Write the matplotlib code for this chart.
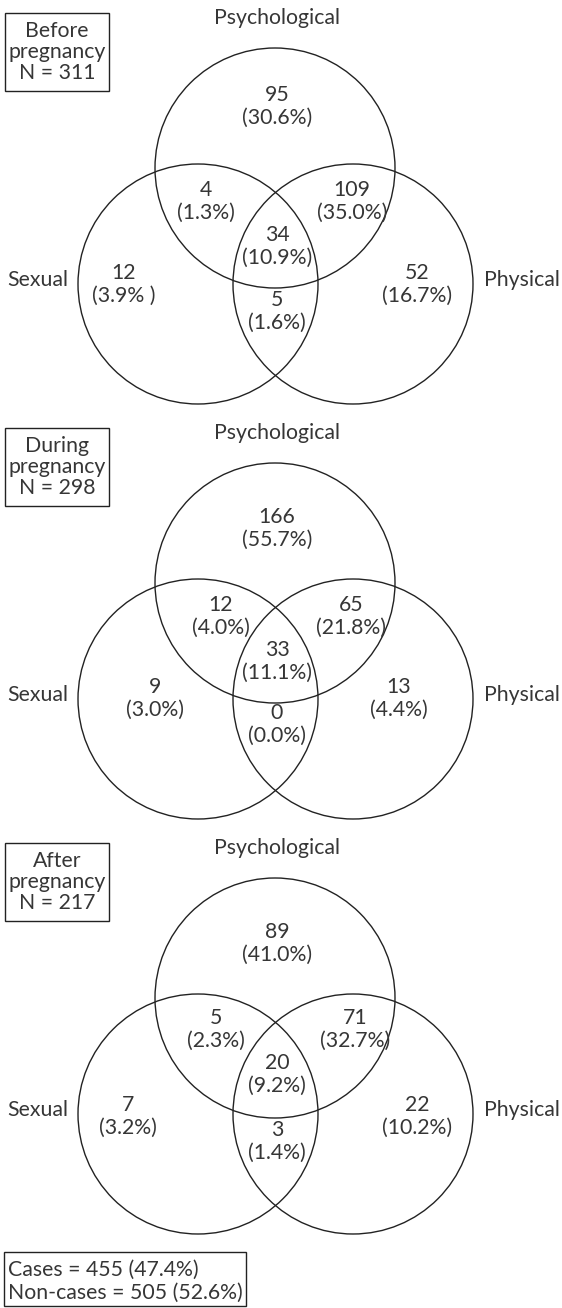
import matplotlib
matplotlib.use("Agg")
import matplotlib.pyplot as plt
from matplotlib.patches import Circle, Rectangle

plt.rcParams['font.family'] = ['Lato', 'DejaVu Sans']

# ---------------- data ----------------
set_names = ["Psychological", "Sexual", "Physical"]
periods = ["Before\npregnancy", "During\npregnancy", "After\npregnancy"]
period_n = [311, 298, 217]
# regions: psych only, psych&sexual, psych&physical, all three, sexual only, sexual&physical, physical only
region_keys = ["P", "PS", "PPh", "PSPh", "S", "SPh", "Ph"]
counts_before = [95, 4, 109, 34, 12, 5, 52]
counts_during = [166, 12, 65, 33, 9, 0, 13]
counts_after = [89, 5, 71, 20, 7, 3, 22]
pct_before = ["30.6%", "1.3%", "35.0%", "10.9%", "3.9% ", "1.6%", "16.7%"]
pct_during = ["55.7%", "4.0%", "21.8%", "11.1%", "3.0%", "0.0%", "4.4%"]
pct_after = ["41.0%", "2.3%", "32.7%", "9.2%", "3.2%", "1.4%", "10.2%"]
cases_n, cases_pct = 455, "47.4%"
noncases_n, noncases_pct = 505, "52.6%"

counts = [counts_before, counts_during, counts_after]
pcts = [pct_before, pct_during, pct_after]

# ---------------- layout (pixel space) ----------------
W, H = 562, 1308
panel_offsets = [0, 415, 830]
R = 120
centers = {"P": (275, 168), "S": (198, 284), "Ph": (353, 284)}
# label positions (x, y of count line) per panel
label_pos = [
    {"P": (277, 95), "PS": (206, 190), "PPh": (352, 190), "PSPh": (277, 235),
     "S": (124, 273), "SPh": (277, 300), "Ph": (417, 273)},
    {"P": (277, 102), "PS": (221, 190), "PPh": (351, 190), "PSPh": (277, 235),
     "S": (155, 272), "SPh": (277, 298), "Ph": (399, 272)},
    {"P": (277, 102), "PS": (216, 188), "PPh": (355, 188), "PSPh": (277, 233),
     "S": (128, 275), "SPh": (277, 300), "Ph": (417, 275)},
]
line_gap = 23
txt_color = "#363636"
edge_color = "#222222"
fs = 15.3

fig = plt.figure(figsize=(W / 100, H / 100), dpi=100)
ax = fig.add_axes([0, 0, 1, 1])
ax.set_xlim(0, W)
ax.set_ylim(H, 0)
ax.set_aspect('equal')
ax.axis('off')

for i, off in enumerate(panel_offsets):
    for k in ["P", "S", "Ph"]:
        cx, cy = centers[k]
        ax.add_patch(Circle((cx, cy + off), R, fill=False, lw=1.0, ec=edge_color))
    # set names
    ax.text(277, 18 + off, set_names[0], ha='center', va='center', fontsize=fs, color=txt_color)
    ax.text(68, 280 + off, set_names[1], ha='right', va='center', fontsize=fs, color=txt_color)
    ax.text(560, 280 + off, set_names[2], ha='right', va='center', fontsize=fs, color=txt_color)
    # period box
    ax.add_patch(Rectangle((5, 13 + off), 104, 78, fill=False, lw=1.0, ec=edge_color))
    ax.text(57, 52 + off, periods[i] + f"\nN = {period_n[i]}", ha='center', va='center',
            fontsize=fs, color=txt_color, linespacing=1.08)
    # region labels
    for j, key in enumerate(region_keys):
        x, y = label_pos[i][key]
        ax.text(x, y + off, str(counts[i][j]), ha='center', va='center', fontsize=fs, color=txt_color)
        ax.text(x, y + line_gap + off, f"({pcts[i][j]})", ha='center', va='center', fontsize=fs, color=txt_color)

# cases box
ax.add_patch(Rectangle((4, 1252), 242, 54, fill=False, lw=1.0, ec=edge_color))
ax.text(8, 1270, f"Cases = {cases_n} ({cases_pct})", ha='left', va='center', fontsize=fs, color=txt_color)
ax.text(8, 1293, f"Non-cases = {noncases_n} ({noncases_pct})", ha='left', va='center', fontsize=fs, color=txt_color)

fig.savefig("out.png", dpi=100, facecolor='white')
